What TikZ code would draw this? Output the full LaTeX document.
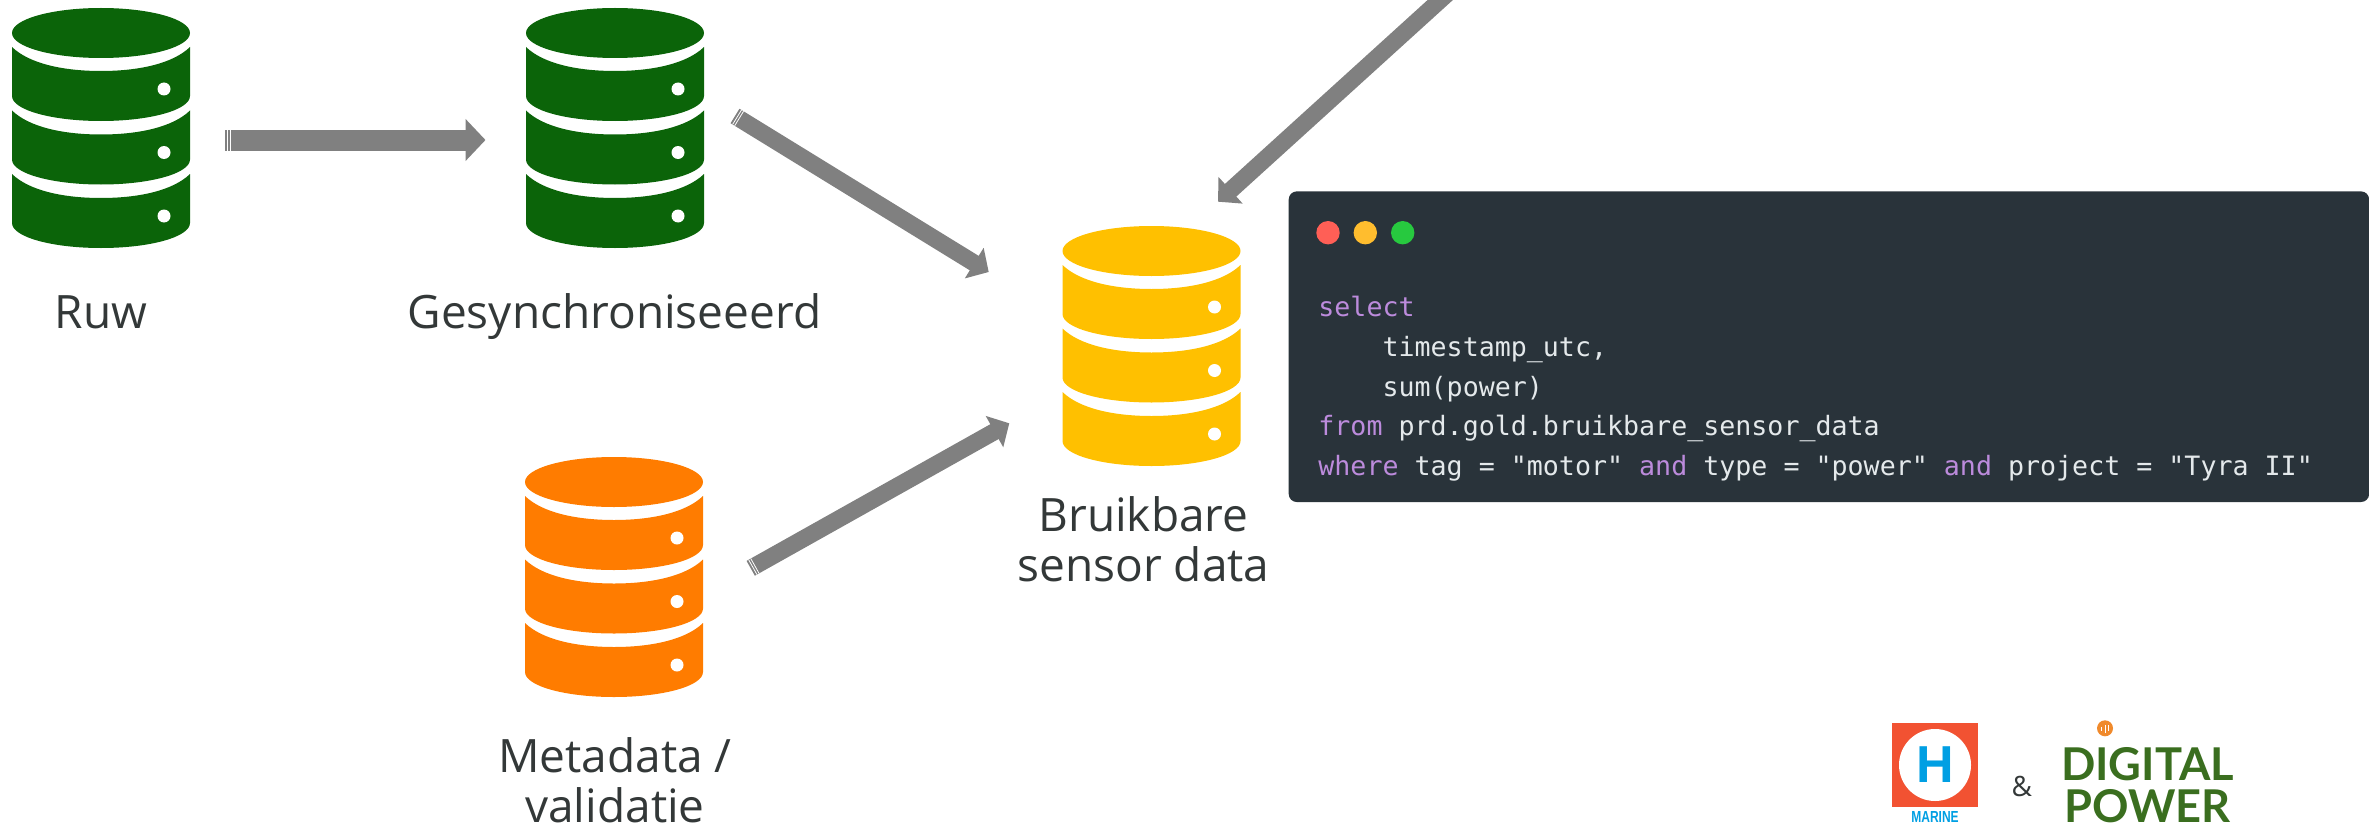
\documentclass[tikz,border=0pt]{standalone}
\usepackage{fontspec}
\usepackage{graphicx}
\usetikzlibrary{arrows.meta}
\newfontfamily\labelfont{Open Sans}
\newfontfamily\codefont{DejaVu Sans Mono}
\newfontfamily\hmarinefont{Liberation Sans}
\newfontfamily\digitalfont{Lato}
\definecolor{dbgreen}{HTML}{0B6409}
\definecolor{dbyellow}{HTML}{FFC000}
\definecolor{dborange}{HTML}{FF7C00}
\definecolor{flowgray}{HTML}{808080}
\definecolor{labelgray}{HTML}{333838}
\definecolor{panelbg}{HTML}{29333A}
\definecolor{codefg}{HTML}{E4E9EB}
\definecolor{codekw}{HTML}{BC8BDC}
\definecolor{hmarinered}{HTML}{F25232}
\definecolor{hmarineblue}{HTML}{009FE3}
\definecolor{digitalgreen}{HTML}{3A6E1F}
\definecolor{digitalorange}{HTML}{F08A2C}
\newcommand{\kw}[1]{\textcolor{codekw}{#1}}
\tikzset{
    dbicon/.pic={
        \fill[pic actions] (0,26) ellipse [x radius=89, y radius=25];
        \foreach \yy in {0,63.5,127} {
            \fill[pic actions] (-89,40+\yy) .. controls (-72,56.5+\yy) and (-38,64+\yy) .. (0,64+\yy)
                .. controls (38,64+\yy) and (72,56.5+\yy) .. (89,40+\yy) -- (89,89+\yy)
                .. controls (89,103+\yy) and (49,114+\yy) .. (0,114+\yy)
                .. controls (-49,114+\yy) and (-89,103+\yy) .. (-89,89+\yy) -- cycle;
            \fill[white] (63,82+\yy) circle [radius=6.5];
        }
    },
    flow/.style={draw=flowgray, line width=8.5pt, -{Triangle[length=8.5pt, width=17.5pt]},
        postaction={draw=white, arrows=-, dash pattern=on 0pt off 1pt on .4pt off .8pt on .4pt off 2000pt}},
    dblabel/.style={font=\labelfont\fontsize{23}{25}\selectfont, text=labelgray, align=center, inner sep=0pt},
    winbtn/.style={circle, minimum size=11.7pt, inner sep=0pt}
}
\begin{document}
\begin{tikzpicture}[x=.5pt, y=-.5pt]
    \clip (0,0) rectangle (2369,824);

    % Databases
    \pic (ruw_db) [fill=dbgreen] at (101,7) {dbicon};
    \pic (sync_db) [fill=dbgreen] at (615,7) {dbicon};
    \pic (meta_db) [fill=dborange] at (614,456) {dbicon};
    \pic (gold_db) [fill=dbyellow] at (1151.5,225) {dbicon};

    % Labels
    \node[dblabel, anchor=base] (ruw_lbl) at (101,328) {Ruw};
    \node[dblabel, anchor=base] (sync_lbl) at (614.5,328) {Gesynchroniseeerd};
    \node[dblabel, anchor=south] (gold_lbl) at (1143.5,582) {Bruikbare\\sensor data};
    \node[dblabel, anchor=south] (meta_lbl) at (615,823.5) {Metadata /\\validatie};

    % Pijlen
    \coordinate (ruw_out) at (225.3,140);
    \coordinate (sync_in) at (485.5,140);
    \coordinate (sync_out) at (735,116);
    \coordinate (gold_in_a) at (988.7,272);
    \coordinate (meta_out) at (750.7,568.3);
    \coordinate (gold_in_b) at (1009.3,423.3);
    \coordinate (top_out) at (1470,-27);
    \coordinate (gold_in_c) at (1218,201.7);
    \draw[flow, line width=10.5pt, -{Triangle[length=10pt, width=20.5pt]}] (ruw_out) -- (sync_in);
    \draw[flow] (sync_out) -- (gold_in_a);
    \draw[flow] (meta_out) -- (gold_in_b);
    \draw[flow] (top_out) -- (gold_in_c);

    % Codevenster
    \node[fill=panelbg, rounded corners=4pt, minimum width=540.2pt, minimum height=155.3pt, inner sep=0pt] (code_box) at (1828.9,346.7) {};
    \node[winbtn, fill={rgb,255:red,255;green,95;blue,86}] (btn_red) at (1328,232.7) {};
    \node[winbtn, fill={rgb,255:red,255;green,189;blue,46}] (btn_amber) at (1365.3,232.7) {};
    \node[winbtn, fill={rgb,255:red,39;green,201;blue,63}] (btn_green) at (1402.7,232.7) {};
    \node[anchor=north west, inner sep=0pt, align=left, text=codefg, font=\codefont\fontsize{13.32}{19.85}\selectfont] (code_txt) at (1318,296) {%
        \kw{select}\\
        \phantom{xxxx}timestamp\_utc,\\
        \phantom{xxxx}sum(power)\\
        \kw{from} prd.gold.bruikbare\_sensor\_data\\
        \kw{where} tag = "motor" \kw{and} type = "power" \kw{and} project = "Tyra II"};

    % Logo's
    \node[fill=hmarinered, minimum width=42.7pt, minimum height=42.3pt, inner sep=0pt] (hm_box) at (1935,765) {};
    \node[circle, fill=white, minimum size=36pt, inner sep=0pt] (hm_disc) at (1935,765) {};
    \node[inner sep=0pt, text=hmarineblue, font=\hmarinefont\bfseries\fontsize{26}{26}\selectfont] (hm_letter) at (1935,765) {H};
    \node[anchor=base, inner sep=0pt, text=hmarineblue, font=\hmarinefont\bfseries\fontsize{8}{8}\selectfont] (hm_name) at (1935,822.5) {\scalebox{.75}[1]{MARINE}};
    \node[dblabel, font=\labelfont\fontsize{14}{14}\selectfont] (amp_lbl) at (2021.7,786.7) {\&};
    \node[circle, fill=digitalorange, minimum size=8pt, inner sep=0pt] (dp_dot) at (2105,728.3) {};
    \draw[white, line width=.4pt] (2101.5,731) -- (2101.5,727) (2105,733) -- (2105,725) (2108.5,731) -- (2108.5,725);
    \node[anchor=base, inner sep=0pt, text=digitalgreen, font=\digitalfont\bfseries\fontsize{22.6}{23}\selectfont] (dp_top) at (2147.5,780) {DIGITAL};
    \node[anchor=base, inner sep=0pt, text=digitalgreen, font=\digitalfont\bfseries\fontsize{22.6}{23}\selectfont] (dp_bot) at (2147.5,822.5) {POWER};
\end{tikzpicture}
\end{document}
